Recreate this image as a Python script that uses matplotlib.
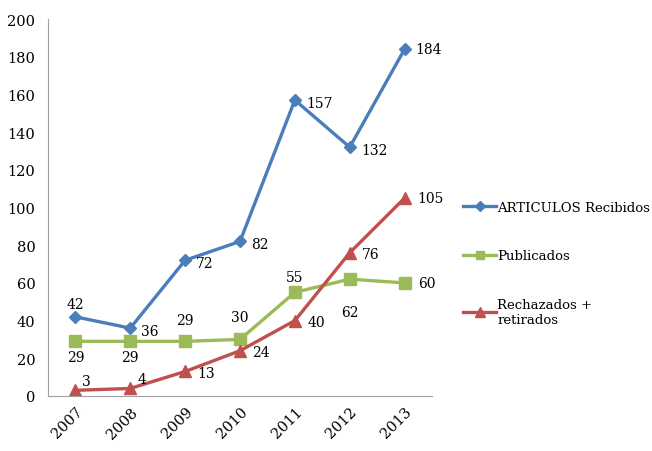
import matplotlib.pyplot as plt

years = ['2007', '2008', '2009', '2010', '2011', '2012', '2013']
recibidos = [42, 36, 72, 82, 157, 132, 184]
publicados = [29, 29, 29, 30, 55, 62, 60]
rechazados = [3, 4, 13, 24, 40, 76, 105]

plt.rcParams['font.family'] = ['DejaVu Serif']
plt.rcParams['font.size'] = 10

fig = plt.figure(figsize=(6.52, 4.52), dpi=100)
ax = fig.add_axes([0.0736, 0.1217, 0.589, 0.834])

x = range(len(years))
l1, = ax.plot(x, recibidos, color='#4A7EBB', lw=2.4, marker='D', ms=6.5, label='ARTICULOS Recibidos')
l2, = ax.plot(x, publicados, color='#9BBB59', lw=2.4, marker='s', ms=8, label='Publicados')
l3, = ax.plot(x, rechazados, color='#C0504D', lw=2.4, marker='^', ms=8.5, label='Rechazados +\nretirados')

# offsets (points) for data labels
off_rec = [(0, 9), (8, -2), (8, -2), (8, -2), (8, -2), (8, -2), (8, 0)]
off_pub = [(0, -11), (0, -11), (0, 15), (0, 16), (0, 11), (0, -24), (10, 0)]
off_rech = [(5, 7), (5, 7), (9, -1), (9, -1), (9, -1), (9, -1), (9, 0)]

for vals, offs in [(recibidos, off_rec), (publicados, off_pub), (rechazados, off_rech)]:
    for i, v in enumerate(vals):
        dx, dy = offs[i]
        ax.annotate(str(v), (i, v), xytext=(dx, dy), textcoords='offset points',
                    ha='left' if dx > 0 else 'center', va='center', fontsize=10)

ax.set_xlim(-0.5, 6.5)
ax.set_ylim(0, 200)
ax.set_yticks(range(0, 201, 20))
ax.set_xticks(list(x))
ax.set_xticklabels(years, rotation=45, ha='right', rotation_mode='anchor')
ax.tick_params(length=0, labelsize=10.5)
ax.tick_params(axis='y', pad=9)
ax.tick_params(axis='x', pad=6)
for s in ['top', 'right']:
    ax.spines[s].set_visible(False)
for s in ['left', 'bottom']:
    ax.spines[s].set_color('#A0A0A0')

fig.legend(handles=[l1, l2, l3], loc='upper left', bbox_to_anchor=(0.692, 0.58),
           frameon=False, fontsize=9.5, handlelength=2.5, handletextpad=0.1,
           labelspacing=2.7, markerscale=0.8)

fig.savefig('out.png', dpi=100)
